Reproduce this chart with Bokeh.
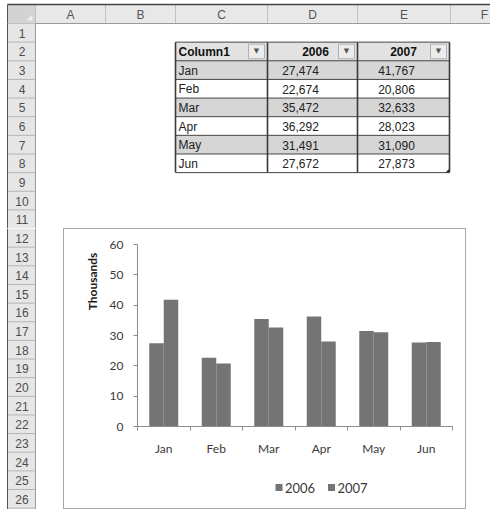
import numpy as np
from bokeh.plotting import figure
from bokeh.layouts import column, row
from bokeh.models import Range1d, FixedTicker, Plot
from bokeh.core.properties import value
from bokeh.embed import file_html
from bokeh.resources import INLINE

# ---------------- data ----------------
months = ["Jan", "Feb", "Mar", "Apr", "May", "Jun"]
sales_2006 = [27474, 22674, 35472, 36292, 31491, 27672]
sales_2007 = [41767, 20806, 32633, 28023, 31090, 27873]
series_names = ["2006", "2007"]
table_header = ["Column1", "2006", "2007"]
col_letters = ["A", "B", "C", "D", "E", "F"]
y_ticks = [0, 10, 20, 30, 40, 50, 60]
y_axis_title = "Thousands"

# ---------------- layout constants (page pixels) ----------------
PAGE_W, PAGE_BOTTOM = 490, 509
RH_L, RH_R = 7, 35                 # row-header column
COL_EDGES = [35, 105, 175, 267, 357, 450, 520]
HDR_TOP, HDR_BOT = 4, 23
ROW_H = 18.64
SPLIT_Y = 228
CHART_X0, CHART_X1 = 63, 466
YT_X1 = 100                        # right edge of the strip holding the y title
LEG_Y0 = 470                       # top of the strip holding the legend
TABLE_COLS = [2, 3, 4]             # C, D, E
TABLE_RIGHT = 449
TABLE_FIRST_ROW = 2

SHEET_FONT = value("Liberation Sans")
CHART_FONT = "Lato"
BAR_COLOR = "#747474"
AXIS_COLOR = "#8c8c8c"
TEXT_COLOR = "#3a3a3a"

HAS_FRAME_ALIGN = "frame_align" in Plot.properties()


def row_top(n):
    return HDR_BOT + (n - 1) * ROW_H


def row_bot(n):
    return HDR_BOT + n * ROW_H


def row_mid(n):
    return HDR_BOT + (n - 0.5) * ROW_H


def plain_fig(x0, x1, y0, y1, fill="white"):
    p = figure(width=int(x1 - x0), height=int(y1 - y0),
               x_range=Range1d(x0, x1), y_range=Range1d(y1, y0),
               x_axis_type=None, y_axis_type=None, toolbar_location=None,
               output_backend="svg", min_border=0)
    p.min_border_left = p.min_border_right = p.min_border_top = p.min_border_bottom = 0
    p.outline_line_color = None
    p.background_fill_color = fill
    p.border_fill_color = fill
    if HAS_FRAME_ALIGN:
        p.frame_align = False
    return p


def draw_row_headers(p, rows, labelled):
    tops = [row_top(n) for n in rows]
    bots = [row_bot(n) for n in rows]
    p.quad(left=RH_L, right=RH_R, top=tops, bottom=bots,
           fill_color="#e6e6e6", line_color=None)
    p.segment(x0=RH_L, x1=RH_R, y0=bots, y1=bots, line_color="#b4b4b4", line_width=1)
    p.segment(x0=RH_R, x1=RH_R, y0=tops[0], y1=bots[-1], line_color="#9a9a9a", line_width=1)
    p.segment(x0=RH_L, x1=RH_L, y0=tops[0], y1=bots[-1], line_color="#555555", line_width=1)
    p.text(x=(RH_L + RH_R) / 2 + 0.5, y=[row_mid(n) + 0.5 for n in labelled],
           text=[str(n) for n in labelled], text_align="center", text_baseline="middle",
           text_font=SHEET_FONT, text_font_size="12px", text_color="#4d4d4d")


# ---------------- top part of the sheet ----------------
top = plain_fig(0, PAGE_W, 0, SPLIT_Y)

top.quad(left=RH_L, right=COL_EDGES[-1], top=HDR_TOP, bottom=HDR_BOT,
         fill_color="#e8e8e8", line_color=None)
top.quad(left=RH_L, right=RH_R, top=HDR_TOP, bottom=HDR_BOT,
         fill_color="#d3d3d3", line_color=None)
top.segment(x0=COL_EDGES, x1=COL_EDGES, y0=HDR_TOP, y1=HDR_BOT,
            line_color="#c2c2c2", line_width=1)
top.segment(x0=RH_L, x1=COL_EDGES[-1], y0=HDR_BOT, y1=HDR_BOT,
            line_color="#9a9a9a", line_width=1)
top.segment(x0=RH_L, x1=COL_EDGES[-1], y0=HDR_TOP, y1=HDR_TOP,
            line_color="#444444", line_width=1.5)
top.segment(x0=RH_L, x1=RH_L, y0=HDR_TOP, y1=HDR_BOT,
            line_color="#555555", line_width=1)
top.patch(x=[RH_R - 9, RH_R - 3, RH_R - 3], y=[HDR_BOT - 3, HDR_BOT - 9, HDR_BOT - 3],
          fill_color="#eeeeee", line_color=None)
col_centers = [(COL_EDGES[i] + COL_EDGES[i + 1]) / 2 for i in range(len(col_letters))]
col_centers[-1] = min(col_centers[-1], PAGE_W - 6)
top.text(x=col_centers, y=(HDR_TOP + HDR_BOT) / 2 + 1, text=col_letters,
         text_align="center", text_baseline="middle", text_font=SHEET_FONT,
         text_font_size="12px", text_color="#555555")

draw_row_headers(top, list(range(1, 12)), list(range(1, 12)))

# ---- table C2:E8 ----
t_edges = [COL_EDGES[c] for c in TABLE_COLS] + [TABLE_RIGHT]
n_rows = len(months) + 1
t_rows = list(range(TABLE_FIRST_ROW, TABLE_FIRST_ROW + n_rows))
fills = ["#e2e2e2"] + ["#d6d6d6" if i % 2 == 0 else "#ffffff" for i in range(len(months))]
top.quad(left=t_edges[0], right=t_edges[-1],
         top=[row_top(r) for r in t_rows], bottom=[row_bot(r) for r in t_rows],
         fill_color=fills, line_color=None)
h_lines = [row_top(r) for r in t_rows] + [row_bot(t_rows[-1])]
top.segment(x0=t_edges[0], x1=t_edges[-1], y0=h_lines, y1=h_lines,
            line_color="#454545", line_width=1)
top.segment(x0=t_edges, x1=t_edges, y0=row_top(t_rows[0]), y1=row_bot(t_rows[-1]),
            line_color="#3a3a3a", line_width=1.6)
# table resize handle
tb = row_bot(t_rows[-1])
top.patch(x=[t_edges[-1] - 4, t_edges[-1], t_edges[-1]], y=[tb, tb - 4, tb],
          fill_color="#333333", line_color=None)

b_right = [e - 3 for e in t_edges[1:]]
b_left = [r - 16 for r in b_right]
top.quad(left=b_left, right=b_right, top=row_top(TABLE_FIRST_ROW) + 2,
         bottom=row_bot(TABLE_FIRST_ROW) - 2, fill_color="#ececec", line_color="#b0b0b0")
top.text(x=[(l + r) / 2 for l, r in zip(b_left, b_right)], y=row_mid(TABLE_FIRST_ROW),
         text=["\u25BC"] * 3, text_align="center", text_baseline="middle",
         text_font=value("DejaVu Sans"), text_font_size="7px", text_color="#555555")

hdr_y = row_mid(TABLE_FIRST_ROW) + 0.5
top.text(x=t_edges[0] + 3, y=hdr_y, text=[table_header[0]], text_align="left",
         text_baseline="middle", text_font=SHEET_FONT, text_font_style="bold",
         text_font_size="12px", text_color="#111111")
top.text(x=[t_edges[1] + 48, t_edges[2] + 46], y=hdr_y, text=table_header[1:],
         text_align="center", text_baseline="middle", text_font=SHEET_FONT,
         text_font_style="bold", text_font_size="12px", text_color="#111111")

body_y = [row_mid(r) + 0.5 for r in t_rows[1:]]
top.text(x=t_edges[0] + 3, y=body_y, text=months, text_align="left",
         text_baseline="middle", text_font=SHEET_FONT, text_font_size="12px",
         text_color="#222222")
top.text(x=t_edges[1] + 33, y=body_y, text=[f"{v:,}" for v in sales_2006],
         text_align="center", text_baseline="middle", text_font=SHEET_FONT,
         text_font_size="12px", text_color="#222222")
top.text(x=t_edges[2] + 39, y=body_y, text=[f"{v:,}" for v in sales_2007],
         text_align="center", text_baseline="middle", text_font=SHEET_FONT,
         text_font_size="12px", text_color="#222222")

# ---------------- lower-left strip of the sheet ----------------
left = plain_fig(0, CHART_X0, SPLIT_Y, PAGE_BOTTOM)
draw_row_headers(left, list(range(12, 28)), list(range(12, 27)))

# ---------------- chart (three pieces inside one bordered box) ----------------
# y-axis title strip
ytitle = plain_fig(CHART_X0, YT_X1, SPLIT_Y, LEG_Y0, fill=None)
ytitle.text(x=[92], y=[281], text=[y_axis_title], angle=np.pi / 2,
            text_align="center", text_baseline="middle", text_font=value(CHART_FONT),
            text_font_style="bold", text_font_size="12px", text_color="#1a1a1a")

chart = figure(width=CHART_X1 - YT_X1, height=LEG_Y0 - SPLIT_Y,
               x_range=Range1d(-0.5, len(months) - 0.5), y_range=Range1d(y_ticks[0], y_ticks[-1]),
               toolbar_location=None, output_backend="svg",
               min_border_left=37, min_border_right=14, min_border_top=16, min_border_bottom=44)
if HAS_FRAME_ALIGN:
    chart.frame_align = False
chart.xgrid.visible = False
chart.ygrid.visible = False
chart.outline_line_color = None
chart.background_fill_color = None
chart.border_fill_color = None

x = np.arange(len(months))
bw = 0.276
v06 = np.array(sales_2006) / 1000.0
v07 = np.array(sales_2007) / 1000.0
chart.vbar(x=x - bw / 2, width=bw, top=v06, bottom=0, fill_color=BAR_COLOR, line_color=None)
chart.vbar(x=x + bw / 2, width=bw, top=v07, bottom=0, fill_color=BAR_COLOR, line_color=None)

yax = chart.yaxis[0]
yax.ticker = FixedTicker(ticks=y_ticks)
yax.axis_line_color = AXIS_COLOR
yax.major_tick_line_color = AXIS_COLOR
yax.major_tick_out = 4
yax.major_tick_in = 0
yax.minor_tick_line_color = None
yax.major_label_standoff = 10
yax.major_label_text_font = CHART_FONT
yax.major_label_text_font_size = "12px"
yax.major_label_text_color = TEXT_COLOR

xax = chart.xaxis[0]
xax.ticker = FixedTicker(ticks=list(range(len(months))),
                         minor_ticks=[i - 0.5 for i in range(len(months) + 1)])
xax.major_label_overrides = {i: m for i, m in enumerate(months)}
xax.axis_line_color = AXIS_COLOR
xax.major_tick_line_color = None
xax.major_tick_out = 4
xax.major_tick_in = 0
xax.minor_tick_line_color = AXIS_COLOR
xax.minor_tick_out = 4
xax.minor_tick_in = 0
xax.major_label_standoff = 10
xax.major_label_text_font = CHART_FONT
xax.major_label_text_font_size = "12px"
xax.major_label_text_color = TEXT_COLOR

# legend strip
leg = plain_fig(CHART_X0, CHART_X1, LEG_Y0, PAGE_BOTTOM, fill=None)
leg_x = [278.5, 331]
leg.scatter(x=leg_x, y=487, marker="square", size=7, fill_color=BAR_COLOR, line_color=None)
leg.text(x=[lx + 6 for lx in leg_x], y=487, text=series_names, text_align="left",
         text_baseline="middle", text_font=value(CHART_FONT), text_font_size="13px",
         text_color=TEXT_COLOR)

chart_box = column(row(ytitle, chart), leg)
chart_box.styles = {"box-shadow": "inset 0 0 0 1px #a8a8a8", "background-color": "white"}

layout = column(top, row(left, chart_box))
open("out.html", "w").write(file_html(layout, INLINE))
